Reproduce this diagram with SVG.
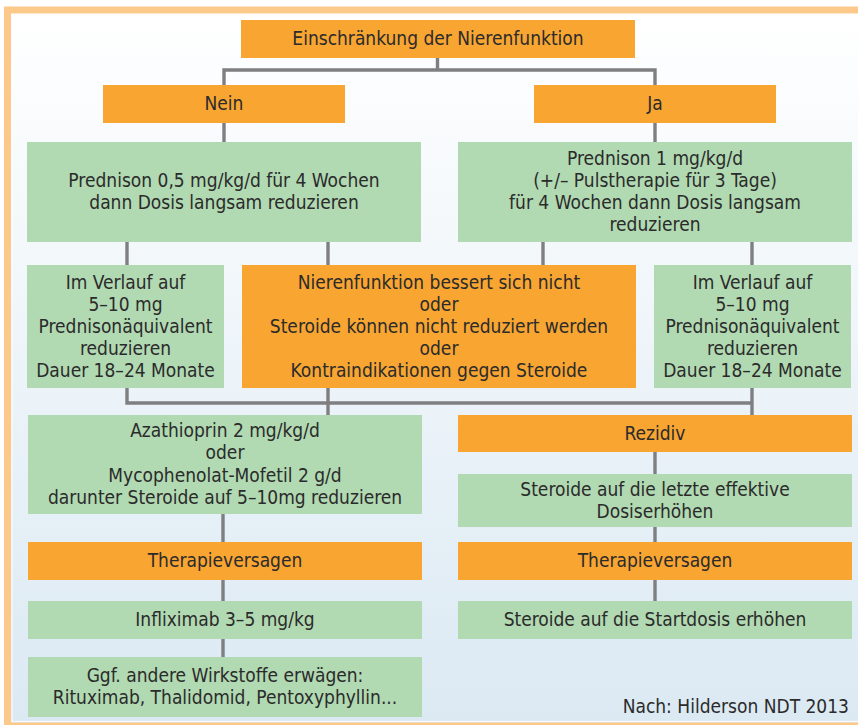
<svg xmlns="http://www.w3.org/2000/svg" width="858" height="725" viewBox="0 0 858 725">
<defs>
<linearGradient id="bg" x1="0" y1="0" x2="0" y2="1">
<stop offset="0" stop-color="#ffffff"/>
<stop offset="1" stop-color="#dbe9f3"/>
</linearGradient>
</defs>
<style>
.o{fill:#f8a532}
.g{fill:#b1d9b2}
text{font-family:"DejaVu Sans Condensed","DejaVu Sans",sans-serif;font-stretch:semi-condensed;font-size:19px;fill:#2b2b2b;text-anchor:middle}
.c{fill:none;stroke:#7f7f82;stroke-width:3.4}
</style>
<rect x="7.5" y="10" width="858" height="716" fill="url(#bg)" stroke="#fdc98a" stroke-width="7"/>
<rect x="12" y="14.5" width="850" height="707" fill="none" stroke="#ffffff" stroke-width="1.2" opacity="0.8"/>
<g id="connectors">
<path class="c" d="M437.5 58V70M224 85V70H655V85"/>
<path class="c" d="M224 123V142M655 123V142"/>
<path class="c" d="M127 242V265M328 242V265M543 242V265M752 242V265"/>
<path class="c" d="M127 388V403H752V388M328 388V415M752 403V415"/>
<path class="c" d="M223 514V542M223 580V601M223 639V657"/>
<path class="c" d="M655 452V474M655 527V542M655 580V601"/>
</g>
<g id="n_top"><rect class="o" x="241" y="20" width="394" height="38"/><text x="438" y="45">Einschränkung der Nierenfunktion</text></g>
<g id="n_nein"><rect class="o" x="103" y="85" width="242" height="38"/><text x="224" y="110">Nein</text></g>
<g id="n_ja"><rect class="o" x="534" y="85" width="242" height="38"/><text x="655" y="110">Ja</text></g>
<g id="n_pred05"><rect class="g" x="27" y="142" width="394" height="100"/><text x="224" y="187">Prednison 0,5 mg/kg/d für 4 Wochen</text><text x="224" y="209.2">dann Dosis langsam reduzieren</text></g>
<g id="n_pred1"><rect class="g" x="458" y="142" width="394" height="100"/><text x="655" y="164.7">Prednison 1 mg/kg/d</text><text x="655" y="186.9">(+/– Pulstherapie für 3 Tage)</text><text x="655" y="209.1">für 4 Wochen dann Dosis langsam</text><text x="655" y="231.3">reduzieren</text></g>
<g id="n_verlauf_l"><rect class="g" x="27" y="265" width="197" height="123"/><text x="125.5" y="288.6">Im Verlauf auf</text><text x="125.5" y="310.8">5–10 mg</text><text x="125.5" y="333">Prednisonäquivalent</text><text x="125.5" y="355.2">reduzieren</text><text x="125.5" y="377.4">Dauer 18–24 Monate</text></g>
<g id="n_niere"><rect class="o" x="242" y="265" width="394" height="123"/><text x="439" y="288.6">Nierenfunktion bessert sich nicht</text><text x="439" y="310.8">oder</text><text x="439" y="333">Steroide können nicht reduziert werden</text><text x="439" y="355.2">oder</text><text x="439" y="377.4">Kontraindikationen gegen Steroide</text></g>
<g id="n_verlauf_r"><rect class="g" x="654" y="265" width="197" height="123"/><text x="752.5" y="288.6">Im Verlauf auf</text><text x="752.5" y="310.8">5–10 mg</text><text x="752.5" y="333">Prednisonäquivalent</text><text x="752.5" y="355.2">reduzieren</text><text x="752.5" y="377.4">Dauer 18–24 Monate</text></g>
<g id="n_aza"><rect class="g" x="28" y="415" width="394" height="99"/><text x="225" y="437.2">Azathioprin 2 mg/kg/d</text><text x="225" y="459.4">oder</text><text x="225" y="481.6">Mycophenolat-Mofetil 2 g/d</text><text x="225" y="503.8">darunter Steroide auf 5–10mg reduzieren</text></g>
<g id="n_rezidiv"><rect class="o" x="458" y="415" width="394" height="37"/><text x="655" y="439.5">Rezidiv</text></g>
<g id="n_letzte"><rect class="g" x="458" y="474" width="394" height="53"/><text x="655" y="495.8">Steroide auf die letzte effektive</text><text x="655" y="518">Dosiserhöhen</text></g>
<g id="n_tv_l"><rect class="o" x="28" y="542" width="394" height="38"/><text x="225" y="567">Therapieversagen</text></g>
<g id="n_tv_r"><rect class="o" x="458" y="542" width="394" height="38"/><text x="655" y="567">Therapieversagen</text></g>
<g id="n_inflix"><rect class="g" x="28" y="601" width="394" height="38"/><text x="225" y="626">Infliximab 3–5 mg/kg</text></g>
<g id="n_start"><rect class="g" x="458" y="601" width="394" height="38"/><text x="655" y="626">Steroide auf die Startdosis erhöhen</text></g>
<g id="n_ggf"><rect class="g" x="28" y="657" width="394" height="60"/><text x="225" y="681.9">Ggf. andere Wirkstoffe erwägen:</text><text x="225" y="704.1">Rituximab, Thalidomid, Pentoxyphyllin...</text></g>
<text x="849" y="713" style="text-anchor:end">Nach: Hilderson NDT 2013</text>
</svg>
